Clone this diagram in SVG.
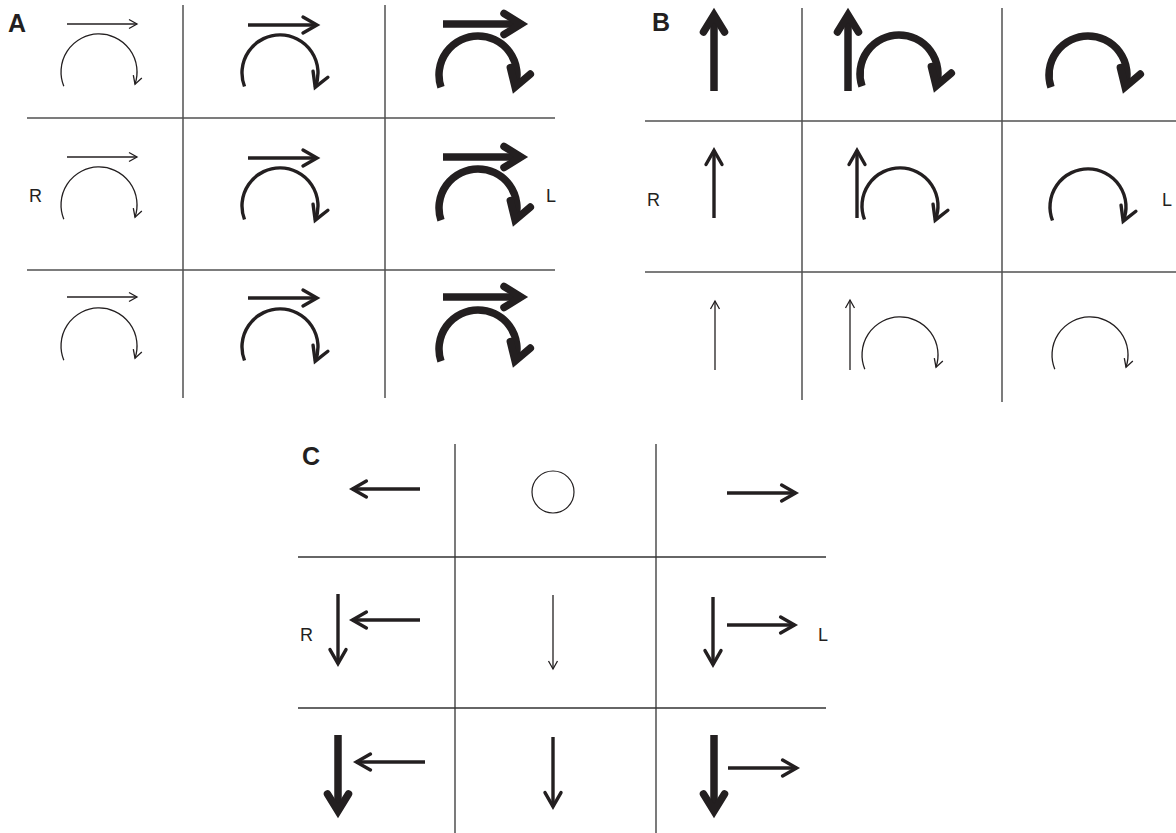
<svg xmlns="http://www.w3.org/2000/svg" width="1176" height="833" viewBox="0 0 1176 833">
<style>
.grid line{stroke:#505050;stroke-width:1.5}
.gridc line{stroke:#333;stroke-width:1.3}
.a{fill:none;stroke:#231f20;stroke-linecap:butt}
.t{stroke-width:1.3;marker-end:url(#hT)}
.m{stroke-width:3.4;marker-end:url(#hM)}
.k{stroke-width:7.5;marker-end:url(#hK)}
.lbl{font-family:"Liberation Sans",Arial,sans-serif;font-weight:bold;font-size:25px;fill:#231f20}
.side{font-family:"Liberation Sans",Arial,sans-serif;font-size:18px;fill:#231f20}
</style>
<defs>
<marker id="hT" markerUnits="userSpaceOnUse" orient="auto" overflow="visible" markerWidth="1" markerHeight="1" refX="0" refY="0">
<path d="M-8,-4.5 L0,0 L-8,4.5" fill="none" stroke="#231f20" stroke-width="1.3"/>
</marker>
<marker id="hM" markerUnits="userSpaceOnUse" orient="auto" overflow="visible" markerWidth="1" markerHeight="1" refX="0" refY="0">
<path d="M-14,-8 L0,0 L-14,8" fill="none" stroke="#231f20" stroke-width="3.4" stroke-linecap="round"/>
</marker>
<marker id="hK" markerUnits="userSpaceOnUse" orient="auto" overflow="visible" markerWidth="1" markerHeight="1" refX="0" refY="0">
<path d="M-17,-10.5 L0,0 L-17,10.5" fill="none" stroke="#231f20" stroke-width="7.5" stroke-linecap="round"/>
</marker>
<path id="arcT" class="a t" d="M-35.2,14.2 A38,38 0 1 1 36,12.2"/>
<path id="arcM" class="a m" d="M-35.5,13.5 A38,38 0 1 1 35.2,14.2"/>
<path id="arcK" class="a k" d="M-37,12.3 A39,39 0 1 1 37.1,12"/>
</defs>
<rect width="1176" height="833" fill="#fff"/>

<g id="gridA" class="grid">
<line x1="183" y1="5" x2="183" y2="398"/>
<line x1="385" y1="5" x2="385" y2="398"/>
<line x1="27" y1="118" x2="555" y2="118"/>
<line x1="27" y1="270" x2="555" y2="270"/>
</g>
<g id="gridB" class="grid">
<line x1="802" y1="8" x2="802" y2="400"/>
<line x1="1002" y1="8" x2="1002" y2="402"/>
<line x1="645" y1="121" x2="1176" y2="121"/>
<line x1="645" y1="272" x2="1176" y2="272"/>
</g>
<g id="gridC" class="gridc">
<line x1="455" y1="444" x2="455" y2="833"/>
<line x1="656" y1="444" x2="656" y2="833"/>
<line x1="298" y1="557" x2="826" y2="557"/>
<line x1="298" y1="708" x2="826" y2="708"/>
</g>

<g id="labels">
<text class="lbl" x="8" y="32">A</text>
<text class="lbl" x="652" y="31">B</text>
<text class="lbl" x="302" y="465">C</text>
<text class="side" x="29" y="202">R</text>
<text class="side" x="546" y="202">L</text>
<text class="side" x="647" y="206">R</text>
<text class="side" x="1162" y="206">L</text>
<text class="side" x="300" y="641">R</text>
<text class="side" x="818" y="641">L</text>
</g>

<g id="connectors">
<g id="A-r0c0"><path class="a t" d="M67,24 H137"/><use href="#arcT" transform="translate(99,72)"/></g>
<g id="A-r0c1"><path class="a m" d="M248,25 H317"/><use href="#arcM" transform="translate(280,73)"/></g>
<g id="A-r0c2"><path class="a k" d="M443,24 H521"/><use href="#arcK" transform="translate(478,75)"/></g>
<g id="A-r1c0"><path class="a t" d="M67,157 H137"/><use href="#arcT" transform="translate(99,205)"/></g>
<g id="A-r1c1"><path class="a m" d="M248,158 H317"/><use href="#arcM" transform="translate(280,206)"/></g>
<g id="A-r1c2"><path class="a k" d="M443,157 H521"/><use href="#arcK" transform="translate(478,208)"/></g>
<g id="A-r2c0"><path class="a t" d="M67,297 H137"/><use href="#arcT" transform="translate(99,346)"/></g>
<g id="A-r2c1"><path class="a m" d="M248,298 H317"/><use href="#arcM" transform="translate(280,347)"/></g>
<g id="A-r2c2"><path class="a k" d="M443,297 H521"/><use href="#arcK" transform="translate(478,349)"/></g>

<g id="B-r0c0"><path class="a k" d="M714,91 V15"/></g>
<g id="B-r0c1"><path class="a k" d="M848,91 V15"/><use href="#arcK" transform="translate(899,74)"/></g>
<g id="B-r0c2"><use href="#arcK" transform="translate(1088,75)"/></g>
<g id="B-r1c0"><path class="a m" d="M714,218 V150.5"/></g>
<g id="B-r1c1"><path class="a m" d="M857,218 V150.5"/><use href="#arcM" transform="translate(900,206)"/></g>
<g id="B-r1c2"><use href="#arcM" transform="translate(1088,207)"/></g>
<g id="B-r2c0"><path class="a t" d="M715,370 V301"/></g>
<g id="B-r2c1"><path class="a t" d="M850,370 V300"/><use href="#arcT" transform="translate(900,355)"/></g>
<g id="B-r2c2"><use href="#arcT" transform="translate(1090,355)"/></g>

<g id="C-r0c0"><path class="a m" d="M420,489 H352.4"/></g>
<g id="C-r0c1"><circle cx="553" cy="492" r="21" fill="none" stroke="#231f20" stroke-width="1.2"/></g>
<g id="C-r0c2"><path class="a m" d="M727,493 H795.6"/></g>
<g id="C-r1c0"><path class="a m" d="M338,594 V663.6"/><path class="a m" d="M420,620 H352.4"/></g>
<g id="C-r1c1"><path class="a t" d="M553,595 V669"/></g>
<g id="C-r1c2"><path class="a m" d="M713,597 V664.6"/><path class="a m" d="M727,625 H794.6"/></g>
<g id="C-r2c0"><path class="a k" d="M338,735 V811"/><path class="a m" d="M425,762 H356.4"/></g>
<g id="C-r2c1"><path class="a m" d="M553,737 V806.6"/></g>
<g id="C-r2c2"><path class="a k" d="M714,735 V811"/><path class="a m" d="M728,768 H796.6"/></g>
</g>
</svg>
